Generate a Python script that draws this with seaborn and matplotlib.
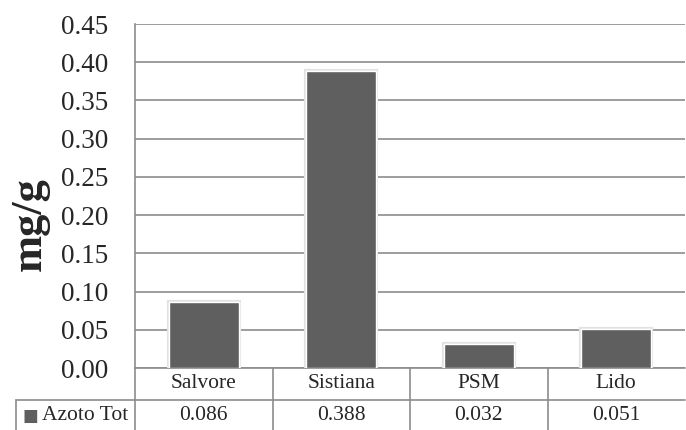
import matplotlib
matplotlib.use("Agg")
import matplotlib.pyplot as plt
import matplotlib.patheffects as pe
import matplotlib.transforms as mtransforms
import pandas as pd
import seaborn as sns

sites = ["Salvore", "Sistiana", "PSM", "Lido"]
azoto_tot = [0.086, 0.388, 0.032, 0.051]
value_labels = ["0.086", "0.388", "0.032", "0.051"]
series_name = "Azoto Tot"
yticks = [0.00, 0.05, 0.10, 0.15, 0.20, 0.25, 0.30, 0.35, 0.40, 0.45]

bar_color = "#5f5f5f"
grid_color = "#8c8c8c"
serif = ["Liberation Serif", "DejaVu Serif"]

sns.set_style("white")
plt.rcParams["font.family"] = serif

df = pd.DataFrame({"site": sites, "value": azoto_tot})

W, H = 686, 430
fig = plt.figure(figsize=(W / 100, H / 100), dpi=100)
ax = fig.add_axes([135 / W, 62 / H, 550 / W, 344 / H])

sns.barplot(data=df, x="site", y="value", color=bar_color, width=0.51,
            saturation=1, ax=ax, zorder=3)
for p in ax.patches:
    p.set_path_effects([pe.withStroke(linewidth=3, foreground="#e2e2e2"), pe.Normal()])

ax.set_xlim(-0.5, 3.5)
ax.set_ylim(0, 0.45)
ax.set_yticks(yticks)
ax.set_yticklabels([f"{v:.2f}" for v in yticks], fontsize=19.5)
ax.tick_params(axis="y", length=0, pad=19)
ax.set_xticks([])
ax.set_xlabel("")
ax.set_ylabel("")
ax.yaxis.grid(True, color=grid_color, linewidth=1.2, zorder=0)
ax.set_axisbelow(True)
for s in ["top", "right", "bottom"]:
    ax.spines[s].set_visible(False)
ax.spines["left"].set_color(grid_color)
ax.spines["left"].set_linewidth(1.2)

# data table below the axes
trans = mtransforms.blended_transform_factory(ax.transData, ax.transAxes)
row_h = 32 / 344
left_cell = -0.5 - (135 - 16) / 137.5
line_kw = dict(color=grid_color, linewidth=1.2, transform=trans, clip_on=False)
ax.plot([-0.5, 3.5], [0, 0], **line_kw)
ax.plot([left_cell, 3.5], [-row_h, -row_h], **line_kw)
for k in range(4):
    ax.plot([k - 0.5, k - 0.5], [0, -2.2 * row_h], **line_kw)
ax.plot([left_cell, left_cell], [-row_h, -2.2 * row_h], **line_kw)

for i, (name, lab) in enumerate(zip(sites, value_labels)):
    ax.text(i, -0.5 * row_h, name, transform=trans, ha="center", va="center", fontsize=15.5)
    ax.text(i, -1.5 * row_h, lab, transform=trans, ha="center", va="center", fontsize=15.5)

ax.text(left_cell + 0.05, -1.5 * row_h, "■", transform=trans, ha="left", va="center",
        fontsize=12, color=bar_color, family=["DejaVu Sans"])
ax.text(left_cell + 0.19, -1.5 * row_h, series_name, transform=trans, ha="left",
        va="center", fontsize=15.5)

fig.text(30 / W, 1 - 224 / H, "mg/g", rotation=90, ha="center", va="center",
         fontsize=32, fontweight="bold")

fig.savefig("out.png", dpi=100)
